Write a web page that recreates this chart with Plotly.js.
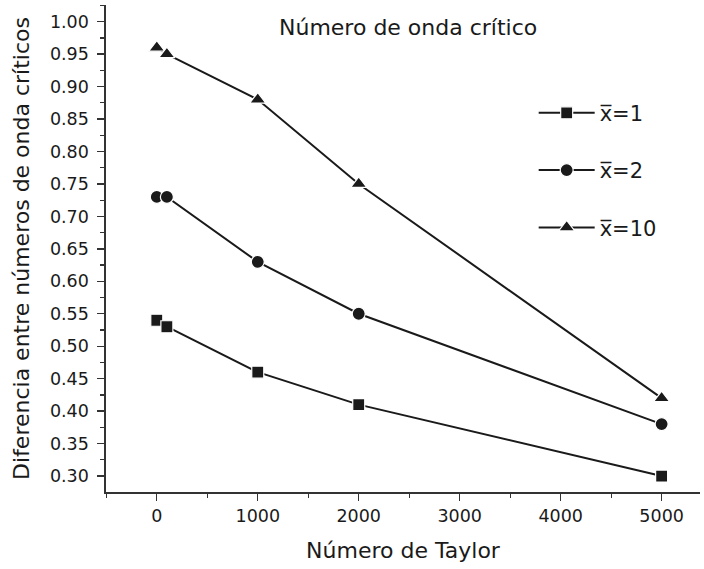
<!DOCTYPE html>
<html>
<head>
<meta charset="utf-8">
<script src="https://cdn.plot.ly/plotly-3.0.1.min.js"></script>
<style>
  html, body { margin: 0; padding: 0; background: #fff; }
  #chart { width: 704px; height: 569px; }
</style>
</head>
<body>
<div id="chart"></div>
<script>
// Taylor numbers sampled
const taylor = [0, 100, 1000, 2000, 5000];

// Critical wave-number difference for each mean position x̄
const serieX1 = [0.54, 0.53, 0.46, 0.41, 0.30];
const serieX2 = [0.73, 0.73, 0.63, 0.55, 0.38];
const serieX10 = [0.96, 0.95, 0.88, 0.75, 0.42];

const seriesNames = ['x\u0305=1', 'x\u0305=2', 'x\u0305=10'];
const seriesSymbols = ['square', 'circle', 'triangle-up'];
const seriesSizes = [12, 13, 14];

const ink = '#1a1a1a';
const fontFamily = 'DejaVu Sans, Verdana, sans-serif';

const data = [serieX1, serieX2, serieX10].map((ys, i) => ({
  type: 'scatter',
  mode: 'lines+markers',
  x: taylor,
  y: ys,
  name: seriesNames[i],
  legendgroup: 'g' + i,
  line: { color: ink, width: 2 },
  marker: {
    symbol: seriesSymbols[i],
    size: seriesSizes[i],
    color: ink,
    line: { color: '#ffffff', width: 1.2 }
  }
}));

const axisCommon = {
  showline: true,
  linecolor: '#333',
  linewidth: 1.6,
  ticks: 'outside',
  ticklen: 7,
  tickwidth: 1.4,
  tickcolor: '#333',
  showgrid: false,
  zeroline: false,
  tickfont: { family: fontFamily, size: 17.5, color: ink },
  minor: { ticks: 'outside', ticklen: 4, tickwidth: 1.2, tickcolor: '#333', showgrid: false }
};

const layout = {
  width: 704,
  height: 569,
  margin: { l: 106, r: 4, t: 5, b: 77 },
  paper_bgcolor: '#fff',
  plot_bgcolor: '#fff',
  font: { family: fontFamily, color: ink },
  showlegend: true,
  legend: {
    x: 0.72, y: 0.82, xanchor: 'left', yanchor: 'top',
    bgcolor: 'rgba(0,0,0,0)',
    font: { family: fontFamily, size: 21, color: ink },
    traceorder: 'grouped',
    tracegroupgap: 27,
    itemwidth: 56
  },
  xaxis: Object.assign({}, axisCommon, {
    range: [-503, 5380],
    tickmode: 'array',
    tickvals: [0, 1000, 2000, 3000, 4000, 5000],
    minor: Object.assign({}, axisCommon.minor, { dtick: 500, tick0: 0 }),
    title: { text: 'Número de Taylor', font: { family: fontFamily, size: 22, color: ink }, standoff: 18 }
  }),
  yaxis: Object.assign({}, axisCommon, {
    range: [0.2754, 1.0257],
    dtick: 0.05,
    tick0: 0.3,
    tickformat: '.2f',
    ticklabelstandoff: 5,
    minor: Object.assign({}, axisCommon.minor, { dtick: 0.025, tick0: 0.3 }),
    title: { text: 'Diferencia entre números de onda críticos', font: { family: fontFamily, size: 22, color: ink }, standoff: 14 }
  }),
  annotations: [{
    text: 'Número de onda crítico',
    xref: 'paper', yref: 'paper',
    x: 0.5076, y: 0.953, xanchor: 'center', yanchor: 'middle',
    showarrow: false,
    font: { family: fontFamily, size: 22, color: ink }
  }]
};

Plotly.newPlot('chart', data, layout, { displayModeBar: false, staticPlot: true });
</script>
</body>
</html>
